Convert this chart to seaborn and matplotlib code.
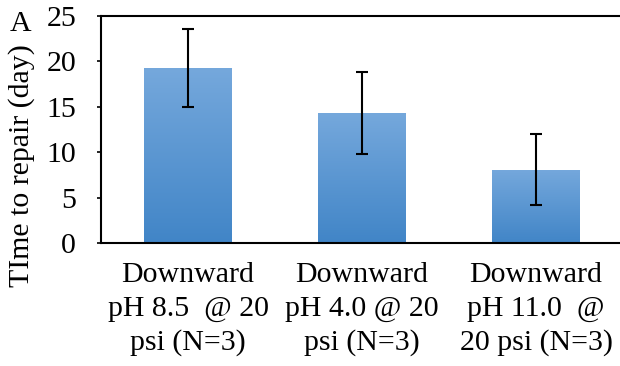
import matplotlib
matplotlib.use("Agg")
import matplotlib.pyplot as plt
import seaborn as sns
import numpy as np
import pandas as pd
from matplotlib.colors import LinearSegmentedColormap

categories = ["Downward\npH 8.5  @ 20\npsi (N=3)",
              "Downward\npH 4.0 @ 20\npsi (N=3)",
              "Downward\npH 11.0  @\n20 psi (N=3)"]
values = [19.25, 14.3, 8.05]
errors = [4.3, 4.55, 3.9]
yticks = [0, 5, 10, 15, 20, 25]

sns.set_theme(style="white")
plt.rcParams['font.family'] = ['Liberation Serif', 'DejaVu Serif']
plt.rcParams['text.color'] = 'black'
plt.rcParams['axes.labelcolor'] = 'black'
plt.rcParams['xtick.color'] = 'black'
plt.rcParams['ytick.color'] = 'black'

FS = 21.5
fig = plt.figure(figsize=(6.2, 3.66), dpi=100)
ax = fig.add_axes([101/620, 123/366, 522/620, 227/366])

df = pd.DataFrame({"cat": categories, "val": values})
sns.barplot(data=df, x="cat", y="val", ax=ax, color="#5B9BD5", width=0.505,
            saturation=1, errorbar=None)

cmap = LinearSegmentedColormap.from_list("g", ["#4185C7", "#75A8DC"])
grad = np.linspace(0, 1, 256).reshape(-1, 1)
for p in ax.patches:
    x0, y0 = p.get_x(), p.get_y()
    w, h = p.get_width(), p.get_height()
    im = ax.imshow(grad, cmap=cmap, origin="lower", aspect="auto",
                   extent=[x0, x0 + w, y0, y0 + h], zorder=p.get_zorder() + 0.1)
    im.set_clip_path(p)

ax.errorbar(range(len(values)), values, yerr=errors, fmt="none",
            ecolor="black", elinewidth=1.5, capsize=4.3, capthick=1.5, zorder=5)

ax.set_xlim(-0.5, 2.5)
ax.set_ylim(0, 25)
ax.set_yticks(yticks)
ax.set_yticklabels([str(t) for t in yticks])
ax.set_xlabel("")
ax.set_ylabel("TIme to repair (day)", fontsize=FS)
ax.yaxis.set_label_coords((22 - 101) / 522, (243 - 166) / 227)
ax.yaxis.label.set_va("center")
ax.tick_params(axis="y", which="both", left=True, length=3, width=1.2,
               color="black", labelsize=FS, pad=15)
ax.tick_params(axis="x", bottom=False, labelsize=FS, pad=8)
for lbl in ax.get_xticklabels():
    lbl.set_linespacing(1.35)

for s in ["left", "top", "bottom"]:
    ax.spines[s].set_visible(True)
    ax.spines[s].set_color("black")
    ax.spines[s].set_linewidth(1.5)
ax.spines["right"].set_visible(False)

fig.text(10/620, 1 - 31/366, "A", fontsize=FS, color="black")

fig.savefig("out.png", dpi=100)
